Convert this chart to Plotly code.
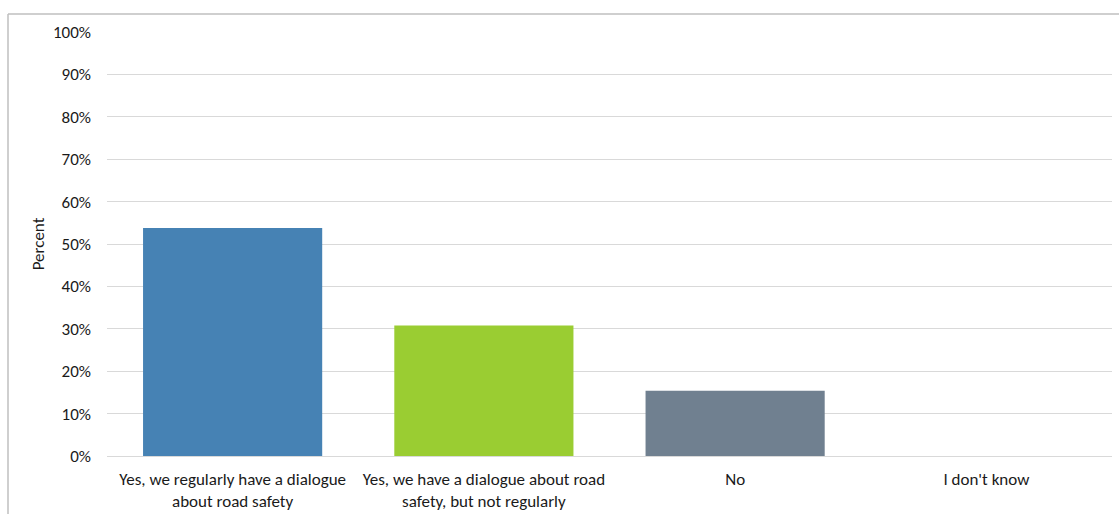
import plotly.graph_objects as go

categories = ["Yes, we regularly have a dialogue<br>about road safety",
              "Yes, we have a dialogue about road<br>safety, but not regularly",
              "No",
              "I don't know"]
values = [53.8, 30.8, 15.4, 0.0]
colors = ["#4682B4", "#9ACD32", "#708090", "#708090"]
y_ticks = [0, 10, 20, 30, 40, 50, 60, 70, 80, 90, 100]
y_tick_labels = [f"{v}%" for v in y_ticks]

W, H = 1119, 514
ml, mr, mt, mb = 107, 7, 32, 58
pw, ph = W - ml - mr, H - mt - mb

fig = go.Figure(go.Bar(x=categories, y=values, marker_color=colors,
                       marker_line_width=0, width=0.713))

fig.update_layout(
    width=W, height=H,
    margin=dict(l=ml, r=mr, t=mt, b=mb, autoexpand=False),
    paper_bgcolor="white", plot_bgcolor="white",
    font=dict(family="Carlito, Lato, Open Sans, sans-serif", size=17, color="#1a1a1a"),
    showlegend=False,
    bargap=0.287,
)
fig.update_yaxes(range=[0, 100], tickvals=y_ticks, ticktext=y_tick_labels,
                 showgrid=True, gridcolor="#d9d9d9", gridwidth=1.3,
                 zeroline=False, showline=False, ticks="", ticklen=0,
                 ticklabelstandoff=15,
                 title=dict(text="Percent", font=dict(size=17), standoff=4))
fig.update_xaxes(showgrid=False, showline=True, linecolor="#d9d9d9", linewidth=1.3,
                 ticks="", tickangle=0, ticklabelstandoff=7)

# outer chart frame
x0 = (8 - ml) / pw
y1 = 1 + (mt - 14) / ph
fig.add_shape(type="line", xref="paper", yref="paper", x0=x0, x1=x0, y0=-0.5, y1=y1,
              line=dict(color="#bfbfbf", width=1.5))
fig.add_shape(type="line", xref="paper", yref="paper", x0=x0, x1=1.5, y0=y1, y1=y1,
              line=dict(color="#bfbfbf", width=1.5))

fig.write_html("out.html")
